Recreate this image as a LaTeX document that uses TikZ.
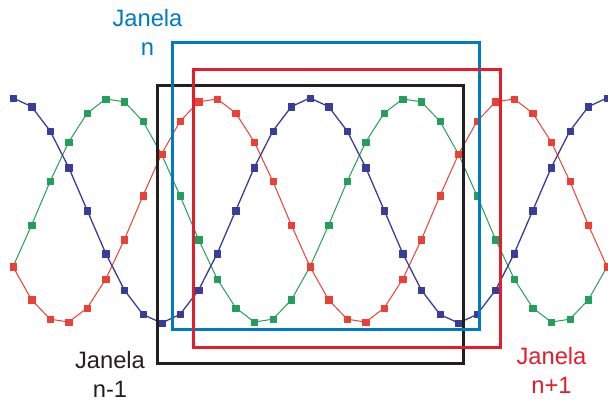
\documentclass[tikz,border=0pt]{standalone}
\usepackage{fontspec}
\setmainfont{Liberation Sans}
\usetikzlibrary{plotmarks}
\definecolor{wblue}{RGB}{57,61,153}
\definecolor{wgreen}{RGB}{35,159,90}
\definecolor{wred}{RGB}{235,64,52}
\definecolor{rblue}{RGB}{0,122,193}
\definecolor{rred}{RGB}{226,30,45}
\definecolor{rblack}{RGB}{35,31,32}
\begin{document}
\begin{tikzpicture}[x=1bp,y=-1bp,
  win/.style={line width=3bp},
  lab/.style={font=\fontsize{23.7bp}{28.5bp}\selectfont, align=center, inner sep=0pt, anchor=base}]
\useasboundingbox (0,0) rectangle (608,402);
\draw[wgreen, line width=1bp, line join=round] plot[variable=\k, samples at={0,...,32}, mark=square*, mark size=3.2bp, mark options={line width=0.3bp}]
  ({13+\k*18.5625},{210.5-112.5*cos(\k*22.5-120)});
\draw[wred, line width=1bp, line join=round] plot[variable=\k, samples at={0,...,32}, mark=square*, mark size=3.2bp, mark options={line width=0.3bp}]
  ({13+\k*18.5625},{210.5-112.5*cos(\k*22.5+120)});
\draw[wblue, line width=1.3bp, line join=round] plot[variable=\k, samples at={0,...,32}, mark=square*, mark size=3.2bp, mark options={line width=0.3bp}]
  ({13+\k*18.5625},{210.5-112.5*cos(\k*22.5)});
\draw[win, rblack] (157,85) rectangle (463,363.5);
\draw[win, rblue] (172,42) rectangle (479,329);
\draw[win, rred] (193,69) rectangle (500,347);
\node[lab, text=rblue] (ln) at (147.5,55) {Janela\\n};
\node[lab, text=rblack] (lnm) at (110,397) {Janela\\n-1};
\node[lab, text=rred] (lnp) at (551.5,393) {Janela\\n+1};
\end{tikzpicture}
\end{document}
